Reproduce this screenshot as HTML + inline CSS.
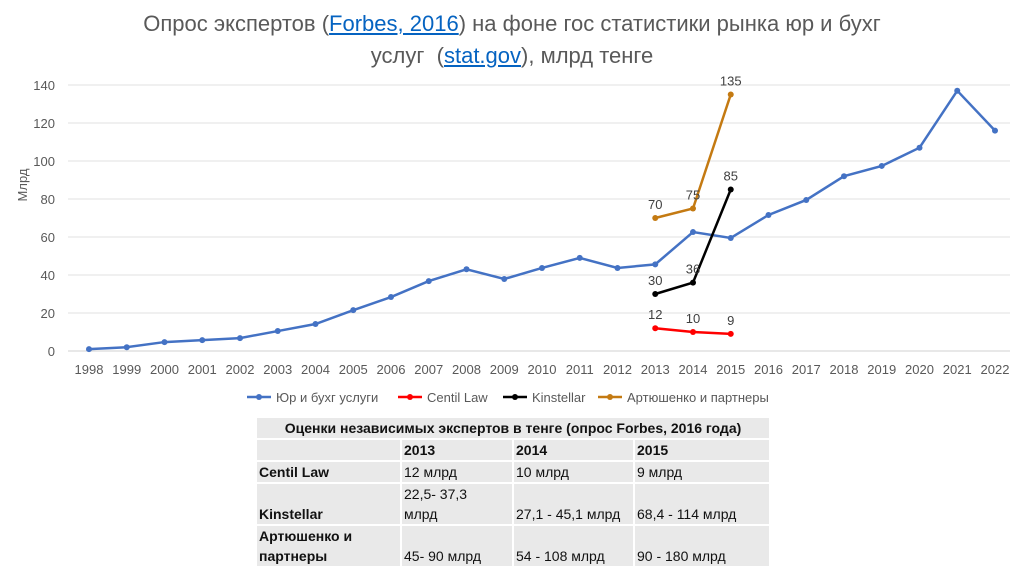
<!DOCTYPE html>
<html><head><meta charset="utf-8"><style>
body{margin:0;width:1024px;height:574px;background:#fff;font-family:"Liberation Sans",sans-serif;overflow:hidden;position:relative}
#title{position:absolute;left:0;top:8px;width:1024px;text-align:center;font-size:22px;line-height:32px;color:#595959}
#title a{color:#0563c1;text-decoration:underline}
table{position:absolute;left:255px;top:416px;border-collapse:collapse;table-layout:fixed;width:514px;font-family:"Liberation Sans",sans-serif;font-size:14px;color:#111}
td{background:#e9e9e9;border:2px solid #fff;padding:0 2px;vertical-align:bottom;line-height:20px;white-space:nowrap;overflow:hidden}
</style></head><body>
<div id="title">Опрос экспертов (<a>Forbes, 2016</a>) на фоне гос статистики рынка юр и бухг<br>услуг &nbsp;(<a>stat.gov</a>), млрд тенге</div>
<svg id="chart" width="1024" height="410" style="position:absolute;left:0;top:0"></svg>
<table>
<colgroup><col style="width:145px"><col style="width:112px"><col style="width:121px"><col style="width:136px"></colgroup>
<tr><td colspan="4" style="text-align:center;font-weight:bold">Оценки независимых экспертов в тенге (опрос Forbes, 2016 года)</td></tr>
<tr style="font-weight:bold"><td></td><td>2013</td><td>2014</td><td>2015</td></tr>
<tr><td style="font-weight:bold">Centil Law</td><td>12 млрд</td><td>10 млрд</td><td>9 млрд</td></tr>
<tr><td style="font-weight:bold">Kinstellar</td><td>22,5- 37,3<br>млрд</td><td>27,1 - 45,1 млрд</td><td>68,4 - 114 млрд</td></tr>
<tr><td style="font-weight:bold">Артюшенко и<br>партнеры</td><td>45- 90 млрд</td><td>54 - 108 млрд</td><td>90 - 180 млрд</td></tr>
</table>
<script>
const years=[1998,1999,2000,2001,2002,2003,2004,2005,2006,2007,2008,2009,2010,2011,2012,2013,2014,2015,2016,2017,2018,2019,2020,2021,2022];
const mainVals=[1,2,4.7,5.7,6.8,10.5,14.2,21.5,28.4,36.8,43,37.9,43.7,49,43.7,45.6,62.6,59.5,71.6,79.5,92,97.4,107,137,116];
const exYears=[2013,2014,2015];
const centil=[12,10,9];
const kinst=[30,36,85];
const artyush=[70,75,135];
const yTicks=[0,20,40,60,80,100,120,140];
const NS='http://www.w3.org/2000/svg';
const svg=document.getElementById('chart');
const X=y=>89+(y-1998)*37.75, Y=v=>351-v*1.9;
function el(t,a,p){const e=document.createElementNS(NS,t);for(const k in a)e.setAttribute(k,a[k]);(p||svg).appendChild(e);return e;}
yTicks.forEach(t=>{
 const g=el('line',{x1:68,x2:1010,y1:Y(t),y2:Y(t),stroke:t?'#e0e0e0':'#d0d0d0','stroke-width':1});
 
 
 const l=el('text',{x:55,y:Y(t)+5,'text-anchor':'end','font-size':13,fill:'#595959'});l.textContent=t;
 
 
});
years.forEach(y=>{const l=el('text',{x:X(y),y:374,'text-anchor':'middle','font-size':13,fill:'#595959'});l.textContent=y;
 
 });
const yt=el('text',{x:0,y:0,transform:'translate(27,185) rotate(-90)','text-anchor':'middle','font-size':13,fill:'#595959'});yt.textContent='Млрд';


function series(xs,vs,col,name,labels){
 const p=el('polyline',{points:xs.map((x,i)=>X(x)+','+Y(vs[i])).join(' '),fill:'none',stroke:col,'stroke-width':2.5});
 
 
 xs.forEach((x,i)=>{const c=el('circle',{cx:X(x),cy:Y(vs[i]),r:3,fill:col});
  
  
  if(labels){const t=el('text',{x:X(x),y:Y(vs[i])-9,'text-anchor':'middle','font-size':13,fill:'#404040'});t.textContent=vs[i];
   
   }
 });
}
series(years,mainVals,'#4472c4','main',false);
series(exYears,centil,'#ff0000','centil',true);
series(exYears,kinst,'#000000','kinstellar',true);
series(exYears,artyush,'#c47a12','artyushenko',true);
const leg=[['Юр и бухг услуги','#4472c4',247],['Centil Law','#ff0000',398],['Kinstellar','#000',503],['Артюшенко и партнеры','#c47a12',598]];
leg.forEach(([n,c,x])=>{
 const g=el('g',{});
 
 
 el('line',{x1:x,x2:x+24,y1:397,y2:397,stroke:c,'stroke-width':2.5},g);
 el('circle',{cx:x+12,cy:397,r:3,fill:c},g);
 const t=el('text',{x:x+29,y:402,'font-size':13,fill:'#595959'},g);t.textContent=n;
});
</script>
</body></html>
